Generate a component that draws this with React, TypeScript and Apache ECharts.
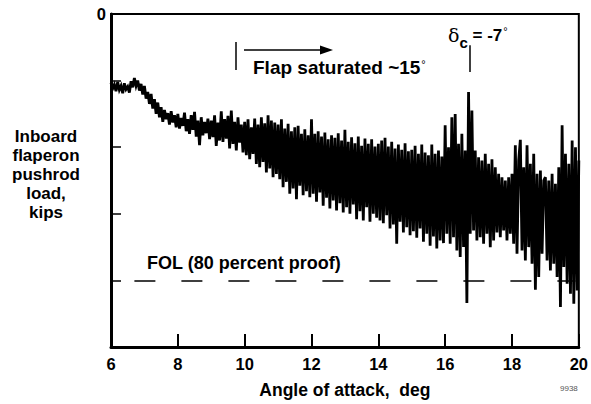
import React, { useEffect, useRef } from "react";
import * as echarts from "echarts";

// Angle of attack sampling (deg)
const ANGLE_START = 6;
const ANGLE_STEP = 0.05;
const X_MIN = 6;
const X_MAX = 20;
const X_INTERVAL = 2;
const Y_MIN = -5;
const Y_MAX = 0;
const Y_INTERVAL = 1;

// Inboard flaperon pushrod load, kips, one row per degree
const LOAD_6 = [-1.03, -1.12, -1.06, -1.16, -1.02, -1.14, -1.08, -1.19, -1.04, -1.13, -1.09, -1.18, -1.01, -1.1, -0.96, -1.08, -1.0, -1.15, -1.05, -1.21];
const LOAD_7 = [-1.08, -1.27, -1.17, -1.35, -1.2, -1.42, -1.28, -1.5, -1.33, -1.55, -1.4, -1.62, -1.44, -1.58, -1.49, -1.66, -1.46, -1.63, -1.52, -1.7];
const LOAD_8 = [-1.5, -1.72, -1.56, -1.68, -1.48, -1.76, -1.58, -1.8, -1.52, -1.74, -1.47, -1.84, -1.6, -1.97, -1.55, -1.82, -1.62, -1.79, -1.57, -1.88];
const LOAD_9 = [-1.6, -1.85, -1.52, -1.98, -1.63, -1.9, -1.46, -1.92, -1.58, -1.87, -1.53, -2.02, -1.45, -1.95, -1.62, -2.05, -1.55, -1.93, -1.66, -2.08];
const LOAD_10 = [-1.62, -2.12, -1.58, -2.18, -1.7, -2.1, -1.57, -2.25, -1.66, -2.3, -1.55, -2.22, -1.64, -2.38, -1.52, -2.32, -1.6, -2.45, -1.63, -2.4];
const LOAD_11 = [-1.66, -2.48, -1.58, -2.6, -1.72, -2.52, -1.65, -2.7, -1.76, -2.62, -1.7, -2.78, -1.68, -2.58, -1.8, -2.72, -1.73, -2.66, -1.82, -2.75];
const LOAD_12 = [-1.58, -2.7, -1.8, -2.82, -1.76, -2.68, -1.84, -2.88, -1.78, -2.76, -1.88, -2.92, -1.82, -2.8, -1.86, -2.95, -1.79, -2.84, -1.9, -2.98];
const LOAD_13 = [-1.74, -2.9, -1.92, -3.0, -1.85, -2.86, -1.94, -3.08, -1.84, -2.96, -1.98, -3.1, -1.87, -2.9, -1.95, -3.12, -1.88, -3.0, -1.99, -3.06];
const LOAD_14 = [-1.95, -3.1, -1.9, -3.14, -1.86, -3.02, -1.99, -3.22, -1.92, -3.16, -2.02, -3.45, -1.96, -3.12, -2.04, -3.28, -1.94, -3.2, -2.06, -3.32];
const LOAD_15 = [-2.04, -3.26, -1.98, -3.36, -2.1, -3.22, -1.96, -3.42, -2.08, -3.3, -2.12, -3.48, -1.96, -3.34, -2.1, -3.52, -2.05, -3.4, -2.14, -3.44];
const LOAD_16 = [-1.67, -3.3, -2.0, -3.45, -1.55, -3.35, -1.5, -3.55, -1.95, -3.65, -1.8, -3.5, -2.05, -4.34, -1.17, -3.3, -1.45, -3.25, -2.05, -3.4];
const LOAD_17 = [-2.15, -3.35, -2.2, -3.45, -2.1, -3.3, -2.25, -3.5, -2.18, -3.4, -2.3, -3.28, -2.4, -3.35, -2.45, -3.25, -2.5, -3.4, -2.45, -3.3];
const LOAD_18 = [-2.4, -3.45, -1.97, -3.6, -2.2, -1.89, -3.55, -2.3, -3.7, -1.97, -3.5, -2.25, -3.75, -2.1, -4.14, -2.4, -3.95, -2.35, -3.6, -2.5];
const LOAD_19 = [-2.45, -3.7, -2.5, -3.85, -2.4, -3.75, -2.55, -3.95, -2.3, -4.4, -1.67, -3.8, -2.1, -4.05, -2.25, -4.2, -1.9, -4.35, -2.0, -4.15];
const LOAD_20 = [-2.2];

// FOL (80 percent proof) level and its drawn extent
const FOL_LOAD = -4;
const FOL_FROM = 6.7;
const FOL_TO = 19.9;
// Flight condition marker delta_c = -7 deg
const DELTA_C_ANGLE = 16.75;

const X_TICK_LABELS = ["6", "8", "10", "12", "14", "16", "18", "20"];

const FONT = "'Liberation Sans', Arial, Helvetica, sans-serif";

export default function App() {
  const ref = useRef<HTMLDivElement>(null);

  useEffect(() => {
    if (!ref.current) return;
    const chart = echarts.init(ref.current, null, { renderer: "svg" });
    const loads = [
      ...LOAD_6, ...LOAD_7, ...LOAD_8, ...LOAD_9, ...LOAD_10, ...LOAD_11, ...LOAD_12,
      ...LOAD_13, ...LOAD_14, ...LOAD_15, ...LOAD_16, ...LOAD_17, ...LOAD_18, ...LOAD_19, ...LOAD_20,
    ];
    const data = loads.map((v, i) => [+(ANGLE_START + i * ANGLE_STEP).toFixed(2), v]);

    chart.setOption({
      animation: false,
      backgroundColor: "#fff",
      grid: {
        left: 111,
        right: 5,
        top: 14,
        bottom: 57,
        show: true,
        borderColor: "#000",
        borderWidth: 2,
        backgroundColor: "transparent",
      },
      xAxis: {
        type: "value",
        min: X_MIN,
        max: X_MAX,
        interval: X_INTERVAL,
        name: "Angle of attack,  deg",
        nameLocation: "middle",
        nameGap: 34,
        nameTextStyle: { fontFamily: FONT, fontWeight: "bold", fontSize: 17.5, color: "#000" },
        axisLine: { show: true, onZero: false, lineStyle: { color: "#000", width: 3 } },
        axisTick: { show: true, inside: true, length: 13, lineStyle: { color: "#000", width: 2 } },
        axisLabel: {
          fontFamily: FONT,
          fontWeight: "bold",
          fontSize: 16.5,
          color: "#000",
          margin: 8,
          formatter: (v: number) => {
            const idx = Math.round((v - X_MIN) / X_INTERVAL);
            return X_TICK_LABELS[idx] ?? "";
          },
        },
        splitLine: { show: false },
      },
      yAxis: {
        type: "value",
        min: Y_MIN,
        max: Y_MAX,
        interval: Y_INTERVAL,
        axisLine: { show: true, onZero: false, lineStyle: { color: "#000", width: 3 } },
        axisTick: { show: true, inside: true, length: 10, lineStyle: { color: "#000", width: 1.5 } },
        axisLabel: {
          fontFamily: FONT,
          fontWeight: "bold",
          fontSize: 16.5,
          color: "#000",
          margin: 5,
          formatter: (v: number) => (v === 0 ? "0" : ""),
        },
        splitLine: { show: false },
      },
      series: [
        {
          type: "line",
          data,
          symbol: "none",
          lineStyle: { color: "#000", width: 2.8, join: "miter" },
          z: 3,
          markLine: {
            silent: true,
            symbol: "none",
            label: { show: false },
            lineStyle: { color: "#000", width: 1.5, type: [21, 26] },
            data: [
              [
                { coord: [FOL_FROM, FOL_LOAD] },
                { coord: [FOL_TO, FOL_LOAD] },
              ],
              [
                { coord: [DELTA_C_ANGLE, -0.47], lineStyle: { type: "solid", width: 1.5 } },
                { coord: [DELTA_C_ANGLE, -0.87] },
              ],
            ],
          },
        },
      ],
      graphic: [
        {
          type: "text",
          x: 46,
          y: 127,
          style: {
            text: "Inboard\nflaperon\npushrod\nload,\nkips",
            align: "center",
            fontFamily: FONT,
            fontWeight: "bold",
            fontSize: 17,
            lineHeight: 19,
            fill: "#000",
          },
        },
        {
          type: "line",
          shape: { x1: 236, y1: 42, x2: 236, y2: 70 },
          style: { stroke: "#000", lineWidth: 1.5 },
        },
        {
          type: "line",
          shape: { x1: 244, y1: 50, x2: 322, y2: 50 },
          style: { stroke: "#000", lineWidth: 1.5 },
        },
        {
          type: "polygon",
          shape: { points: [[320, 45.5], [333, 50], [320, 54.5]] },
          style: { fill: "#000" },
        },
        {
          type: "text",
          x: 253,
          y: 58,
          style: {
            text: "Flap saturated ~15{d|°}",
            fontFamily: FONT,
            fontWeight: "bold",
            fontSize: 19,
            fill: "#000",
            rich: {
              d: { fontFamily: FONT, fontSize: 11, verticalAlign: "top", fill: "#000", padding: [0, 0, 8, 1] },
            },
          },
        },
        {
          type: "text",
          x: 448,
          y: 20,
          style: {
            text: "{delta|δ}{sub|c}{eq| = -7}{d|°}",
            fill: "#000",
            rich: {
              delta: { fontFamily: "'DejaVu Serif', 'Liberation Serif', serif", fontSize: 19, fill: "#000" },
              sub: { fontFamily: FONT, fontWeight: "bold", fontSize: 15, fill: "#000", padding: [15, 0, 0, 0] },
              eq: { fontFamily: FONT, fontWeight: "bold", fontSize: 17, fill: "#000" },
              d: { fontFamily: FONT, fontSize: 11, fill: "#000", padding: [0, 0, 9, 1] },
            },
          },
        },
        {
          type: "text",
          x: 147,
          y: 254,
          style: {
            text: "FOL (80 percent proof)",
            fontFamily: FONT,
            fontWeight: "bold",
            fontSize: 18,
            fill: "#000",
          },
        },
        {
          type: "text",
          x: 560,
          y: 384,
          style: {
            text: "9938",
            fontFamily: FONT,
            fontSize: 8,
            fill: "#555",
          },
        },
      ],
    });

    return () => chart.dispose();
  }, []);

  return (
    <div
      ref={ref}
      style={{ position: "absolute", left: 0, top: 0, width: 591, height: 404, background: "#fff" }}
    />
  );
}
